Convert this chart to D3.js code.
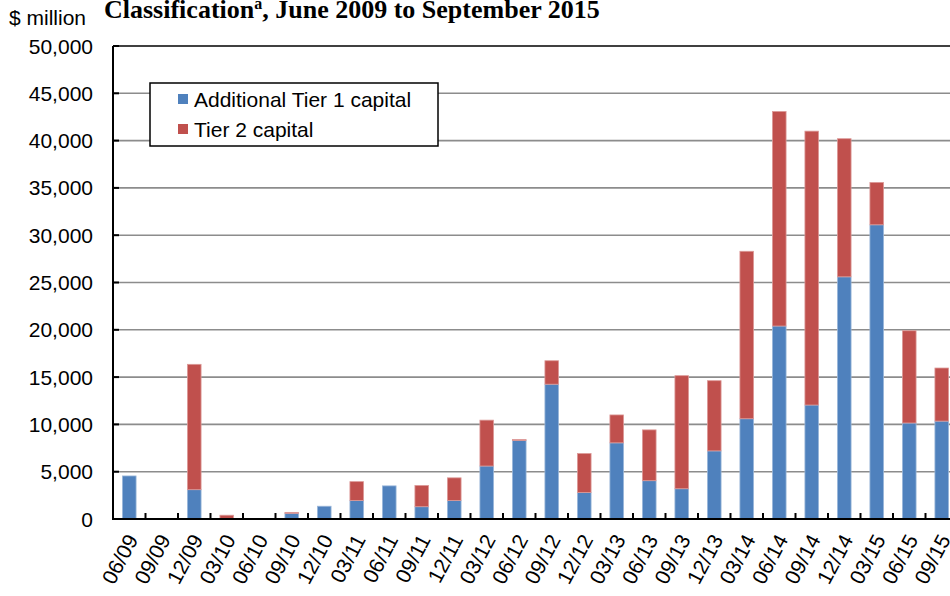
<!DOCTYPE html>
<html>
<head>
<meta charset="utf-8">
<script src="https://cdn.jsdelivr.net/npm/d3@7"></script>
<style>
  body { margin: 0; background: #fff; }
  text { font-family: "Liberation Sans", Arial, sans-serif; fill: #000; }
</style>
</head>
<body>
<div id="chart"></div>
<script>
// Quarter labels
var quarters = ["06/09", "09/09", "12/09", "03/10", "06/10", "09/10", "12/10", "03/11", "06/11",
    "09/11", "12/11", "03/12", "06/12", "09/12", "12/12", "03/13", "06/13", "09/13", "12/13",
    "03/14", "06/14", "09/14", "12/14", "03/15", "06/15", "09/15"];

// $ million
var tier1 = [4550, 0, 3100, 0, 0, 600, 1350, 1950, 3500, 1300, 1950, 5600, 8300, 14250, 2800,
    8050, 4050, 3200, 7200, 10600, 20400, 12050, 25600, 31100, 10150, 10350];
var tier2 = [0, 0, 13250, 400, 0, 100, 0, 2000, 0, 2250, 2400, 4850, 100, 2480, 4120,
    2950, 5370, 11950, 7420, 17700, 22680, 28950, 14600, 4480, 9750, 5610];

var yTicks = [0, 5000, 10000, 15000, 20000, 25000, 30000, 35000, 40000, 45000, 50000];
var seriesNames = ["Additional Tier 1 capital", "Tier 2 capital"];
var colors = ["#4F81BD", "#C0504D"];
var edgeColors = ["#9bb7da", "#dc9a98"];

var W = 950, H = 596;
var plotLeft = 113, plotTop = 46, plotBottom = 519;
var step = 32.5;

var svg = d3.select("#chart").append("svg")
    .attr("width", W)
    .attr("height", H);

// scales
var x = d3.scaleBand()
    .domain(quarters)
    .range([plotLeft, plotLeft + step * quarters.length])
    .paddingInner(0.58)
    .paddingOuter(0.29);
var y = d3.scaleLinear().domain([0, 50000]).range([plotBottom, plotTop]);

// gridlines
svg.selectAll(".grid")
    .data(yTicks.slice(1, -1))
    .enter().append("line")
    .attr("x1", plotLeft).attr("x2", W + 20)
    .attr("y1", function (d) { return y(d); })
    .attr("y2", function (d) { return y(d); })
    .attr("stroke", "#8c8c8c")
    .attr("stroke-width", 1.6);

// stacked data
var rows = quarters.map(function (q, i) { return { q: q, a: tier1[i], b: tier2[i] }; });
var stack = d3.stack().keys(["a", "b"])(rows);

svg.selectAll(".series")
    .data(stack)
    .enter().append("g")
    .attr("fill", function (d, i) { return colors[i]; })
    .attr("stroke", function (d, i) { return edgeColors[i]; })
    .attr("stroke-width", 0.8)
    .selectAll("rect")
    .data(function (d) { return d.filter(function (s) { return s[1] - s[0] > 0; }); })
    .enter().append("rect")
    .attr("x", function (d) { return x(d.data.q); })
    .attr("width", x.bandwidth())
    .attr("y", function (d) { return y(d[1]); })
    .attr("height", function (d) { return y(d[0]) - y(d[1]); });

// axis lines
svg.append("line")
    .attr("x1", plotLeft).attr("x2", plotLeft)
    .attr("y1", plotTop).attr("y2", plotBottom)
    .attr("stroke", "#000").attr("stroke-width", 2);
svg.append("line")
    .attr("x1", plotLeft).attr("x2", W + 20)
    .attr("y1", plotTop).attr("y2", plotTop)
    .attr("stroke", "#000").attr("stroke-width", 1.6);
svg.append("line")
    .attr("x1", plotLeft - 1).attr("x2", W + 20)
    .attr("y1", plotBottom).attr("y2", plotBottom)
    .attr("stroke", "#000").attr("stroke-width", 2);

// y ticks (inside) and labels
svg.selectAll(".ytick")
    .data(yTicks.slice(1))
    .enter().append("line")
    .attr("x1", plotLeft).attr("x2", plotLeft + 6)
    .attr("y1", function (d) { return y(d); })
    .attr("y2", function (d) { return y(d); })
    .attr("stroke", "#000").attr("stroke-width", 2);

svg.selectAll(".ylab")
    .data(yTicks)
    .enter().append("text")
    .attr("x", 93)
    .attr("y", function (d) { return y(d); })
    .attr("dy", "0.36em")
    .attr("text-anchor", "end")
    .style("font-size", "21px")
    .text(function (d) { return d3.format(",")(d); });

// x ticks at category boundaries
svg.selectAll(".xtick")
    .data(quarters.slice(1))
    .enter().append("line")
    .attr("x1", function (d) { return x(d) - x.step() * 0.29; })
    .attr("x2", function (d) { return x(d) - x.step() * 0.29; })
    .attr("y1", plotBottom).attr("y2", plotBottom - 6)
    .attr("stroke", "#000").attr("stroke-width", 2);

svg.selectAll(".xlab")
    .data(quarters)
    .enter().append("text")
    .attr("transform", function (d) {
        return "translate(" + (x(d) + x.bandwidth() / 2 + 3) + "," + 536 + ") rotate(-62)";
    })
    .attr("dy", "0.35em")
    .attr("text-anchor", "end")
    .style("font-size", "21px")
    .text(function (d) { return d; });

// unit label and title
svg.append("text")
    .attr("x", 9).attr("y", 25)
    .style("font-size", "21px")
    .text("$ million");

var title = svg.append("text")
    .attr("x", 104).attr("y", 18)
    .style("font-family", "'Liberation Serif', 'Times New Roman', serif")
    .style("font-weight", "bold")
    .style("font-size", "26px");
title.append("tspan").text("Classification");
title.append("tspan").attr("dy", -9).style("font-size", "16px").text("a");
title.append("tspan").attr("dy", 9).text(", June 2009 to September 2015");

// legend
var legend = svg.append("g");
legend.append("rect")
    .attr("x", 150).attr("y", 83)
    .attr("width", 288).attr("height", 63)
    .attr("fill", "#fff")
    .attr("stroke", "#000")
    .attr("stroke-width", 1.5);

legend.selectAll(".item")
    .data(seriesNames)
    .enter().append("rect")
    .attr("x", 178)
    .attr("y", function (d, i) { return 94 + i * 30; })
    .attr("width", 10).attr("height", 10)
    .attr("fill", function (d, i) { return colors[i]; });

legend.selectAll(".ltext")
    .data(seriesNames)
    .enter().append("text")
    .attr("x", 194)
    .attr("y", function (d, i) { return 99 + i * 30; })
    .attr("dy", "0.36em")
    .style("font-size", "21px")
    .text(function (d) { return d; });
</script>
</body>
</html>
